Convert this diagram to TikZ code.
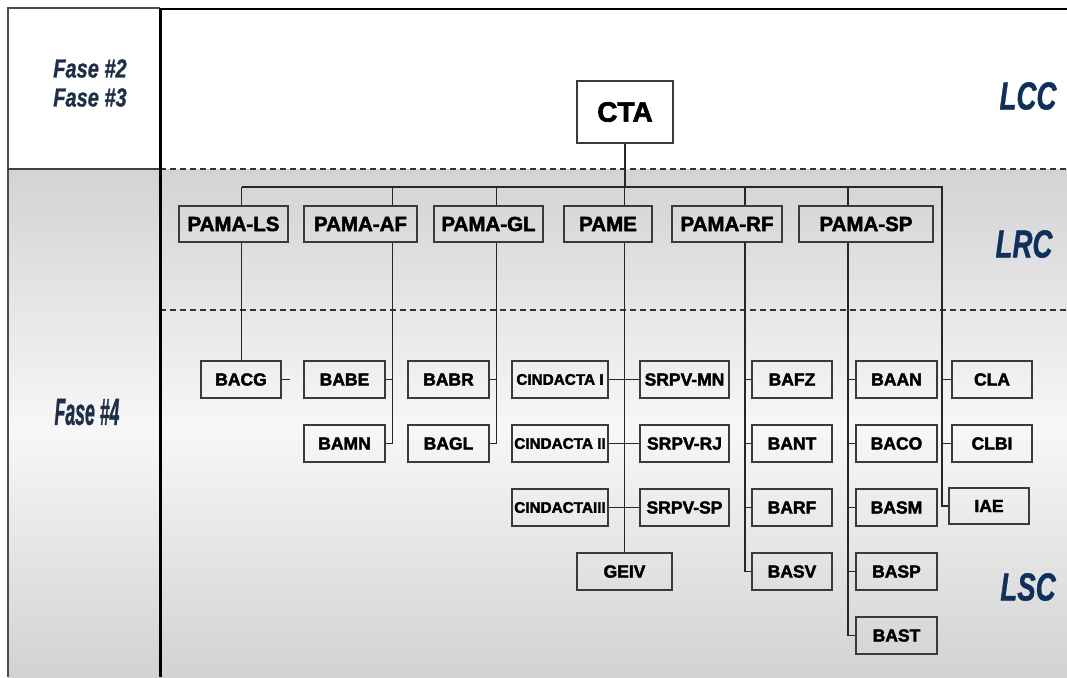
\documentclass[tikz,border=0pt]{standalone}
\usepackage{fontspec}
\setmainfont{Liberation Sans}
\newfontfamily\heavy{Liberation Sans}[BoldFeatures={FakeBold=2.2}]
\newfontfamily\heavyit{Liberation Sans}[BoldItalicFeatures={FakeBold=1.2}]
\usetikzlibrary{calc}
\definecolor{navy}{HTML}{10305C}
\definecolor{fasecol}{HTML}{1F2F48}
\definecolor{boxline}{HTML}{3A3A3A}
\definecolor{gtop}{HTML}{D3D3D3}
\definecolor{gmid}{HTML}{F7F7F7}
\definecolor{gbot}{HTML}{D2D2D2}
\tikzset{
  bx/.style={draw=boxline, line width=1.3pt, inner sep=0pt, align=center,
             font=\heavy\bfseries\fontsize{17.5}{19}\selectfont},
  pama/.style={bx, minimum height=36pt, font=\heavy\bfseries\fontsize{20.5}{22}\selectfont},
  low/.style={bx, minimum height=37pt},
  cind/.style={low, font=\heavy\bfseries\fontsize{15.3}{17}\selectfont},
  conn/.style={draw=black!85, line width=1.2pt},
  level/.style={text=navy, font=\heavyit\bfseries\itshape\fontsize{39}{42}\selectfont},
  fase/.style={text=fasecol, font=\heavyit\bfseries\itshape\fontsize{26}{32}\selectfont, align=center},
  sep/.style={draw=black!80, line width=1.1pt, dash pattern=on 6pt off 4pt},
}
\begin{document}
\begin{tikzpicture}[x=1pt,y=-1pt]
\useasboundingbox (0,0) rectangle (1067,677);
% background gradients
\shade[top color=gtop, bottom color=gmid] (8,169) rectangle (1067,430);
\shade[top color=gmid, bottom color=gbot] (8,430) rectangle (1067,677);
% frame
\draw[draw=black!70, line width=1.6pt] (8,677) -- (8,8) -- (160,8);
\draw[draw=black, line width=2.2pt] (160,9) -- (1067,9);
\draw[draw=black!75, line width=1.4pt] (8,169) -- (160,169);
\draw[sep] (160,169) -- (1067,169);
\draw[sep] (160,310) -- (1067,310);
\draw[draw=black, line width=3pt] (160,8) -- (160,677);
% side labels
\node[fase] (f23) at (90,83) {\scalebox{0.77}[1]{Fase \#2}\\[-3pt]\scalebox{0.77}[1]{Fase \#3}};
\node[fase] (f4) at (87,412) {\scalebox{0.68}[1.45]{Fase \#4}};
\node[level] (lcc) at (1028,96) {\scalebox{0.71}[1]{LCC}};
\node[level] (lrc) at (1024,244) {\scalebox{0.71}[1]{LRC}};
\node[level] (lsc) at (1028,587) {\scalebox{0.71}[1]{LSC}};
% CTA
\node[bx, minimum width=96pt, minimum height=62pt, font=\heavy\bfseries\fontsize{28}{30}\selectfont] (cta) at (625,112) {CTA};
% PAMA row
\node[pama, minimum width=109pt] (pls) at (233.5,224) {PAMA-LS};
\node[pama, minimum width=113pt] (paf) at (360.5,224) {PAMA-AF};
\node[pama, minimum width=109pt] (pgl) at (488.5,224) {PAMA-GL};
\node[pama, minimum width=88pt]  (pme) at (608,224) {PAME};
\node[pama, minimum width=110pt] (prf) at (727,224) {PAMA-RF};
\node[pama, minimum width=134pt] (psp) at (866,224) {PAMA-SP};
% lower boxes
\node[low, minimum width=80pt] (bacg) at (241,379.5) {BACG};
\node[low, minimum width=81pt] (babe) at (344.5,379.5) {BABE};
\node[low, minimum width=81pt] (bamn) at (344.5,443.5) {BAMN};
\node[low, minimum width=81pt] (babr) at (448.5,379.5) {BABR};
\node[low, minimum width=81pt] (bagl) at (448.5,443.5) {BAGL};
\node[cind, minimum width=96pt] (c1) at (560,379.5) {CINDACTA I};
\node[cind, minimum width=96pt] (c2) at (560,443.5) {CINDACTA II};
\node[cind, minimum width=96pt] (c3) at (560,507.5) {CINDACTAIII};
\node[low, minimum width=89pt] (smn) at (684.5,379.5) {SRPV-MN};
\node[low, minimum width=89pt] (srj) at (684.5,443.5) {SRPV-RJ};
\node[low, minimum width=89pt] (ssp) at (684.5,507.5) {SRPV-SP};
\node[low, minimum width=95pt] (geiv) at (624.5,571.5) {GEIV};
\node[low, minimum width=80pt] (bafz) at (792,379.5) {BAFZ};
\node[low, minimum width=80pt] (bant) at (792,443.5) {BANT};
\node[low, minimum width=80pt] (barf) at (792,507.5) {BARF};
\node[low, minimum width=80pt] (basv) at (792,571.5) {BASV};
\node[low, minimum width=81pt] (baan) at (896.5,379.5) {BAAN};
\node[low, minimum width=81pt] (baco) at (896.5,443.5) {BACO};
\node[low, minimum width=81pt] (basm) at (896.5,507.5) {BASM};
\node[low, minimum width=81pt] (basp) at (896.5,571.5) {BASP};
\node[low, minimum width=81pt] (bast) at (896.5,635.5) {BAST};
\node[low, minimum width=80pt] (cla) at (992,379.5) {CLA};
\node[low, minimum width=80pt] (clbi) at (992,443.5) {CLBI};
\node[low, minimum width=80pt, minimum height=36pt] (iae) at (989,506) {IAE};
% bus junctions
\coordinate (jls) at (241.7,187);
\coordinate (jaf) at (392.7,187);
\coordinate (jgl) at (496.7,187);
\coordinate (jme) at (624.5,187);
\coordinate (jrf) at (745,187);
\coordinate (jsp) at (848,187);
\coordinate (jr)  at (942,187);
\coordinate (stub) at ($(bacg.east)+(8,0)$);
% connectors
\draw[conn] (cta.south) -- (cta.south |- jme);
\draw[conn] (jls) -- (jr) |- (iae.west);
\foreach \j/\p in {jls/pls, jaf/paf, jgl/pgl, jme/pme, jrf/prf, jsp/psp}
  \draw[conn] (\j) -- (\j |- \p.north);
\draw[conn] (jls |- pls.south) -- (jls |- bacg.north);
\draw[conn] (bacg.east) -- (stub);
\draw[conn] (jaf |- paf.south) |- (bamn.east);
\draw[conn] (jaf |- babe.east) -- (babe.east);
\draw[conn] (jgl |- pgl.south) |- (bagl.east);
\draw[conn] (jgl |- babr.east) -- (babr.east);
\draw[conn] (jme |- pme.south) -- (geiv.north);
\draw[conn] (c1.east) -- (smn.west);
\draw[conn] (c2.east) -- (srj.west);
\draw[conn] (c3.east) -- (ssp.west);
\draw[conn] (jrf |- prf.south) |- (basv.west);
\foreach \b in {bafz, bant, barf} \draw[conn] (jrf |- \b.west) -- (\b.west);
\draw[conn] (jsp |- psp.south) |- (bast.west);
\foreach \b in {baan, baco, basm, basp} \draw[conn] (jsp |- \b.west) -- (\b.west);
\foreach \b in {cla, clbi} \draw[conn] (jr |- \b.west) -- (\b.west);
\end{tikzpicture}
\end{document}
